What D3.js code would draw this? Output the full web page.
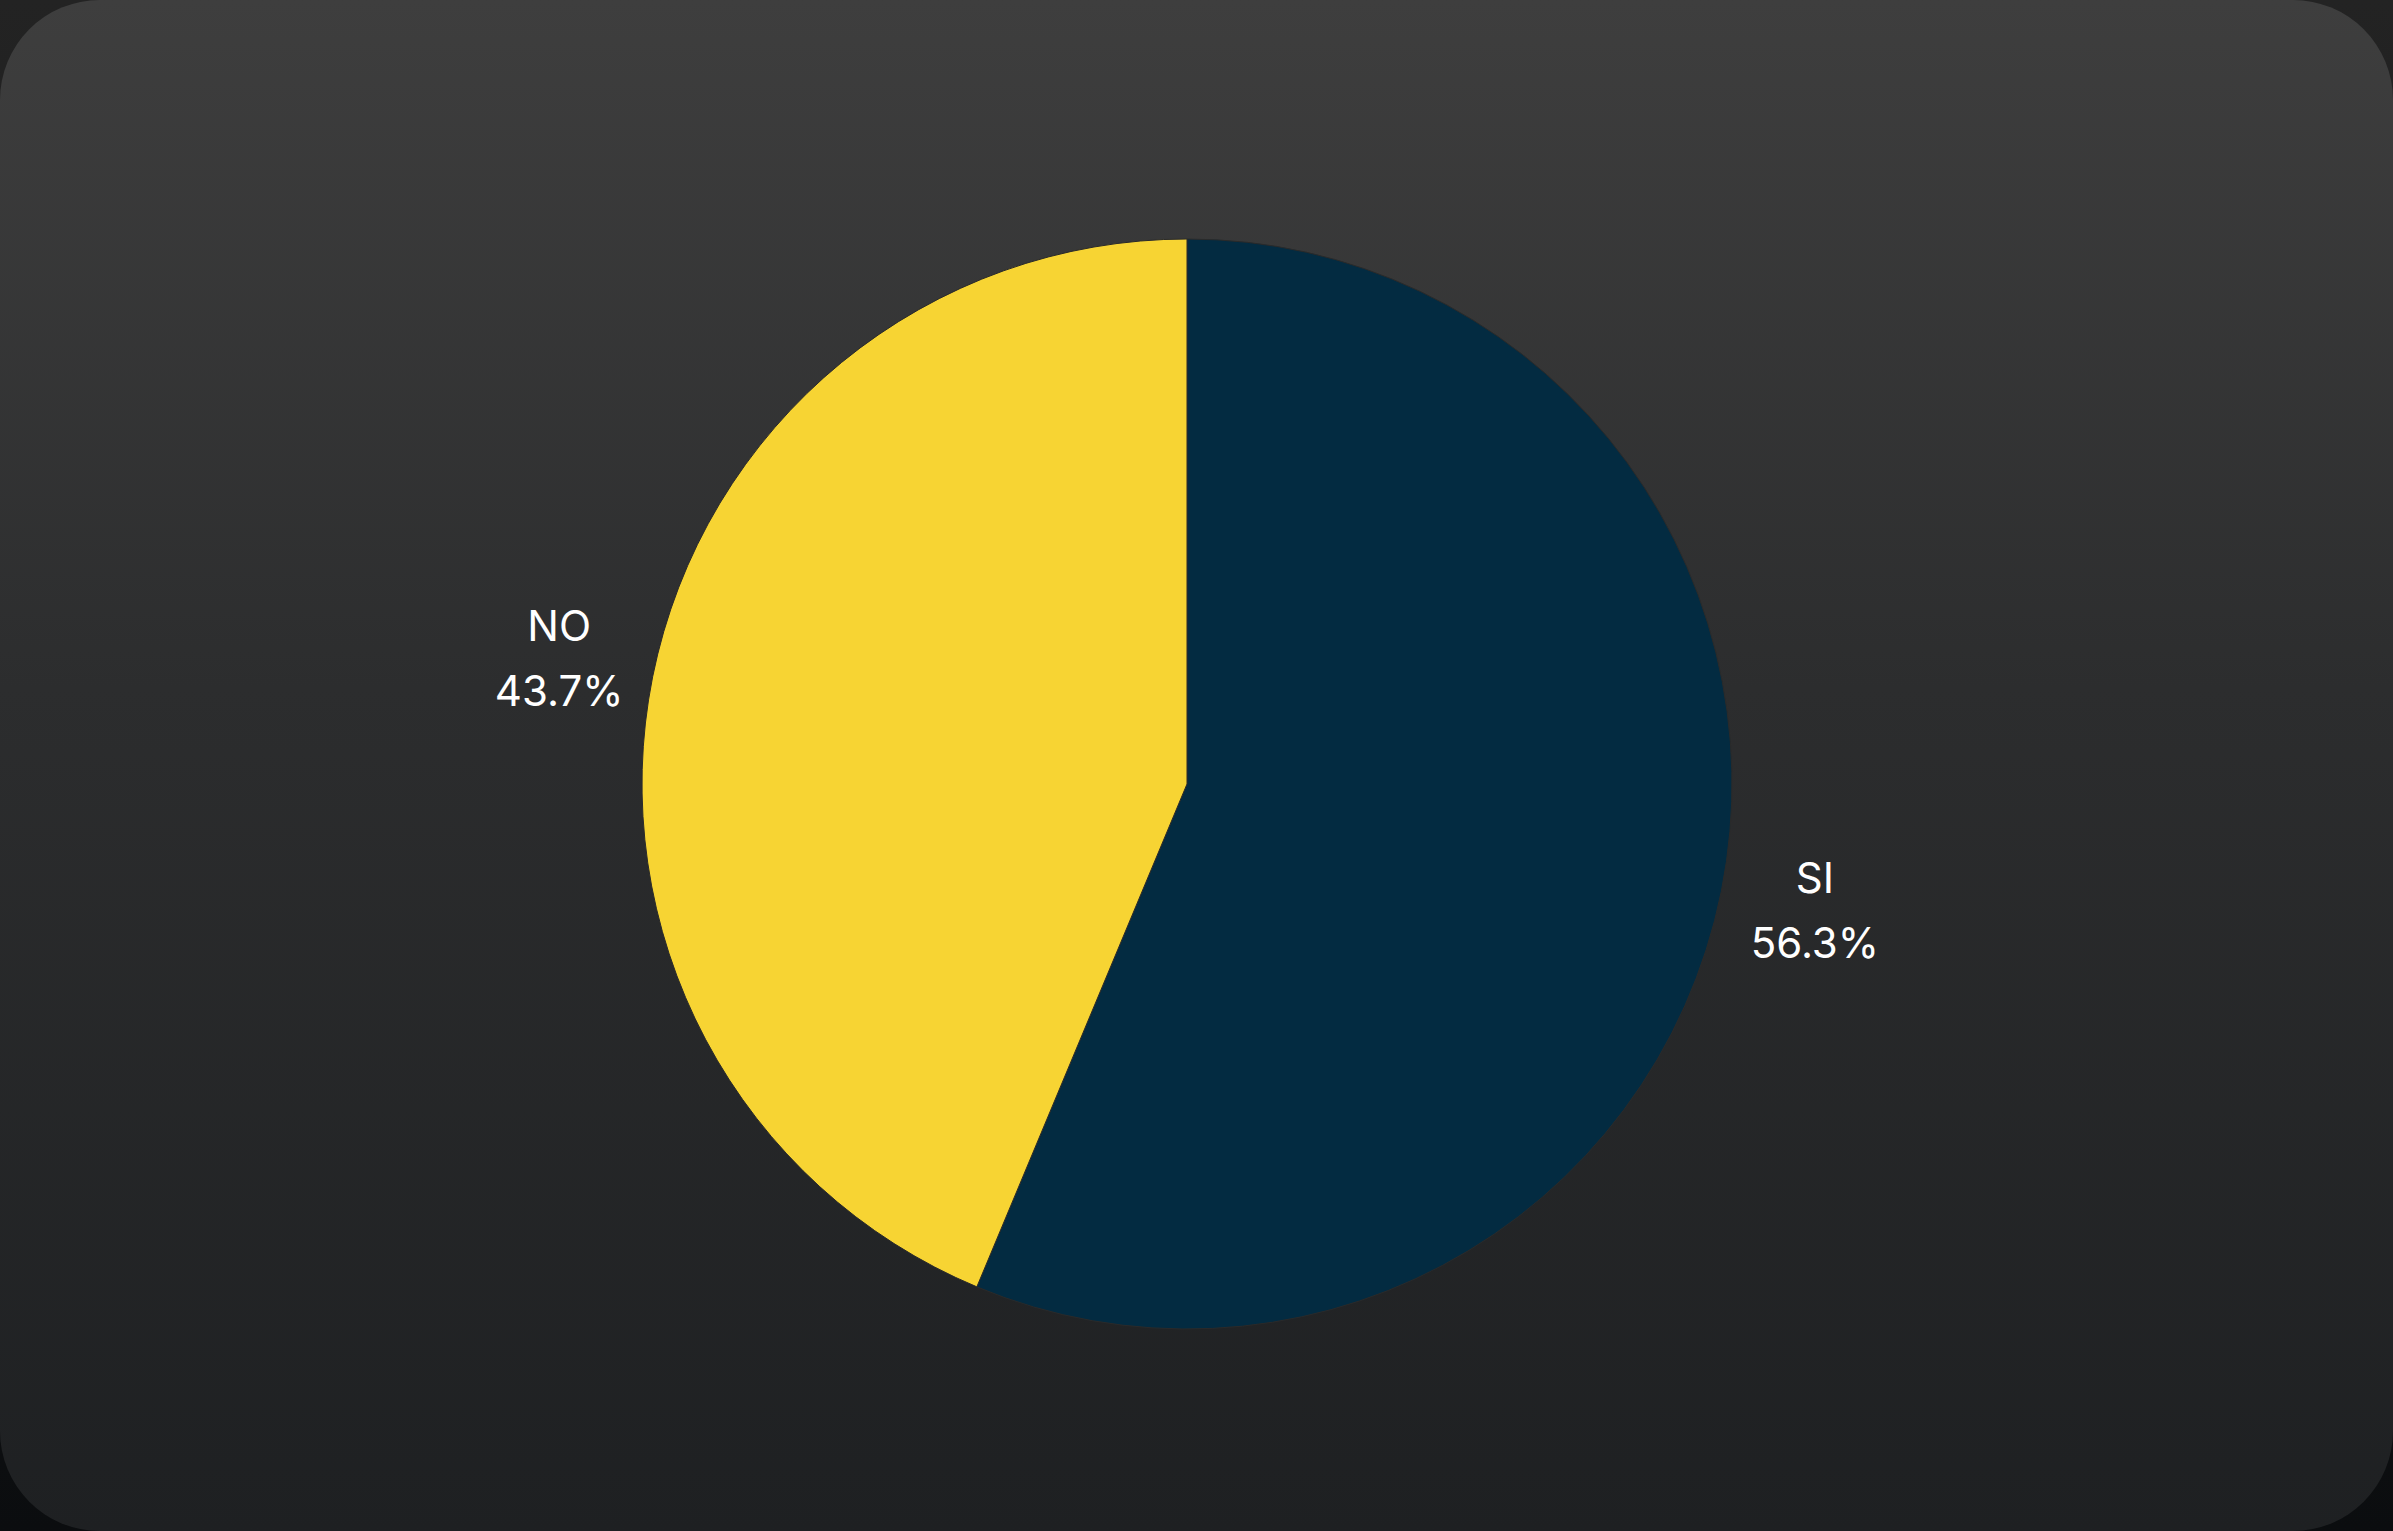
<!DOCTYPE html>
<html>
<head>
<meta charset="utf-8">
<script src="https://cdn.jsdelivr.net/npm/d3@7"></script>
<style>
  html, body { margin: 0; padding: 0; background: #111; }
  svg { display: block; }
</style>
</head>
<body>
<svg id="chart"></svg>
<script>
const labels = ["SI", "NO"];
const values = [56.3, 43.7];
const colors = ["#032b41", "#f7d433"];

const width = 2393;
const height = 1531;
const svg = d3.select("#chart").attr("width", width).attr("height", height);

const defs = svg.append("defs");
const pageGrad = defs.append("linearGradient").attr("id", "page").attr("x1", 0).attr("y1", 0).attr("x2", 0).attr("y2", 1);
pageGrad.append("stop").attr("offset", "0%").attr("stop-color", "#232323");
pageGrad.append("stop").attr("offset", "100%").attr("stop-color", "#0b0d0f");

const cardGrad = defs.append("linearGradient").attr("id", "card").attr("x1", 0).attr("y1", 0).attr("x2", 0).attr("y2", 1);
cardGrad.append("stop").attr("offset", "0%").attr("stop-color", "#3e3e3e");
cardGrad.append("stop").attr("offset", "45%").attr("stop-color", "#2c2d2e");
cardGrad.append("stop").attr("offset", "100%").attr("stop-color", "#1e2022");

svg.append("rect").attr("width", width).attr("height", height).attr("fill", "url(#page)");
svg.append("rect")
  .attr("width", width).attr("height", height)
  .attr("rx", 100).attr("ry", 100)
  .attr("fill", "url(#card)");

const cx = 1187, cy = 784, radius = 545;
const g = svg.append("g").attr("transform", `translate(${cx},${cy})`);

const data = labels.map((label, i) => ({ label, value: values[i], color: colors[i] }));
const pie = d3.pie().sort(null).value((d) => d.value);
const arc = d3.arc().innerRadius(0).outerRadius(radius);
const labelArc = d3.arc().innerRadius(radius * 1.175).outerRadius(radius * 1.175);

const arcs = pie(data);

g.selectAll("path")
  .data(arcs)
  .enter()
  .append("path")
  .attr("d", arc)
  .attr("fill", (d) => d.data.color)
  .attr("stroke", "#2a2a2a")
  .attr("stroke-width", 1);

const label = g.selectAll("text.lbl")
  .data(arcs)
  .enter()
  .append("text")
  .attr("class", "lbl")
  .attr("transform", (d) => {
    const [x, y] = labelArc.centroid(d);
    return `translate(${x},${y})`;
  })
  .attr("text-anchor", "middle")
  .attr("fill", "#ffffff")
  .style("font-family", "Inter, 'Open Sans', sans-serif")
  .style("font-size", "42px");

label.append("tspan").attr("x", 0).attr("y", -17).text((d) => d.data.label);
label.append("tspan").attr("x", 0).attr("y", 48).text((d) => d3.format(".1f")(d.data.value) + "%");
</script>
</body>
</html>
